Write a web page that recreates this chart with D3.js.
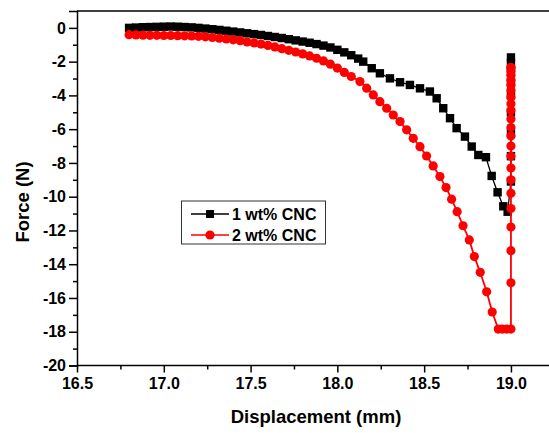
<html>
<head>
<meta charset="utf-8">
<script src="https://d3js.org/d3.v7.min.js"></script>
<style>
  body { margin: 0; background: #fff; }
  text { font-family: Arial, "Liberation Sans", sans-serif; font-weight: bold; }
</style>
</head>
<body>
<svg width="549" height="433"></svg>
<script>
// 1 wt% CNC (black squares)
var blackX = [16.80, 16.84, 16.88, 16.92, 16.96, 17.00, 17.04, 17.08, 17.12, 17.16,
  17.20, 17.24, 17.28, 17.32, 17.36, 17.40, 17.44, 17.48, 17.52, 17.56,
  17.60, 17.64, 17.68, 17.72, 17.76, 17.80, 17.84, 17.88, 17.92, 17.96,
  18.00, 18.04, 18.08, 18.12, 18.149, 18.198, 18.245, 18.303, 18.361, 18.418,
  18.476, 18.533, 18.572, 18.610, 18.649, 18.687, 18.735, 18.774, 18.812, 18.856,
  18.889, 18.923, 18.956, 18.981, 19.0, 19.0, 19.0, 19.0, 19.0, 19.0, 19.0, 19.0, 19.0];
var blackY = [0.00, 0.02, 0.04, 0.05, 0.06, 0.07, 0.08, 0.07, 0.05, 0.03,
  0.00, -0.04, -0.08, -0.12, -0.17, -0.22, -0.27, -0.32, -0.37, -0.42,
  -0.48, -0.54, -0.60, -0.67, -0.74, -0.81, -0.88, -0.96, -1.05, -1.16,
  -1.30, -1.45, -1.62, -1.82, -2.00, -2.39, -2.69, -2.99, -3.22, -3.38,
  -3.58, -3.77, -4.17, -4.76, -5.35, -5.94, -6.44, -7.03, -7.53, -7.66,
  -8.77, -9.74, -10.57, -10.89, -9.1, -7.6, -6.2, -5.0, -4.0, -3.2, -2.6, -2.1, -1.75];

// 2 wt% CNC (red circles)
var redX = [16.80, 16.84, 16.88, 16.92, 16.96, 17.00, 17.04, 17.08, 17.12, 17.16,
  17.20, 17.24, 17.28, 17.32, 17.36, 17.40, 17.44, 17.48, 17.52, 17.56,
  17.60, 17.64, 17.68, 17.72, 17.76, 17.80, 17.84, 17.88, 17.92, 17.96,
  18.00, 18.04, 18.08, 18.13, 18.169, 18.207, 18.245, 18.284, 18.322, 18.361,
  18.399, 18.437, 18.476, 18.514, 18.552, 18.591, 18.626, 18.658, 18.690, 18.724,
  18.760, 18.789, 18.823, 18.860, 18.892, 18.927, 18.95, 18.975, 19.0,
  19.0, 19.0, 19.0, 19.0, 19.0, 19.0, 19.0, 19.0, 19.0, 19.0, 19.0,
  19.0, 19.0, 19.0, 19.0, 19.0, 19.0, 19.0, 19.0, 19.0, 19.0, 19.0];
var redY = [-0.40, -0.42, -0.43, -0.44, -0.44, -0.45, -0.45, -0.46, -0.47, -0.48,
  -0.50, -0.53, -0.57, -0.61, -0.66, -0.71, -0.76, -0.83, -0.89, -0.96,
  -1.04, -1.13, -1.23, -1.33, -1.43, -1.54, -1.66, -1.80, -1.96, -2.15,
  -2.38, -2.64, -2.88, -3.18, -3.57, -3.97, -4.37, -4.76, -5.16, -5.55,
  -6.04, -6.54, -7.04, -7.59, -8.18, -8.81, -9.46, -10.15, -10.89, -11.72,
  -12.56, -13.55, -14.48, -15.63, -16.83, -17.84, -17.84, -17.84, -17.84,
  -15.1, -13.2, -11.8, -10.7, -9.8, -9.0, -8.3, -7.6, -7.0, -6.4, -5.9,
  -5.4, -4.9, -4.5, -4.1, -3.7, -3.4, -3.1, -2.8, -2.55, -2.35, -2.35];

var xTicks = [16.5, 17.0, 17.5, 18.0, 18.5, 19.0];
var yTicks = [0, -2, -4, -6, -8, -10, -12, -14, -16, -18, -20];
var seriesNames = ["1 wt% CNC", "2 wt% CNC"];

var svg = d3.select("svg");

var mLeft = 77, mRight = 550, mTop = 11, mBottom = 365.5;

var xs = d3.scaleLinear().domain([16.5, 19.225]).range([mLeft, mRight]);
var ys = d3.scaleLinear().domain([-20, 1]).range([mBottom, mTop]);

// frame
svg.append("line").attr("x1", mLeft).attr("x2", mRight).attr("y1", mTop).attr("y2", mTop)
  .attr("stroke", "#000").attr("stroke-width", 1.5);

var xAxis = svg.append("g")
  .attr("transform", "translate(0," + mBottom + ")")
  .call(d3.axisBottom(xs).tickValues(xTicks).tickSize(7).tickPadding(5)
    .tickFormat(function(d) { return d.toFixed(1); }));
var xMinor = svg.append("g")
  .attr("transform", "translate(0," + mBottom + ")")
  .call(d3.axisBottom(xs).tickValues([16.75, 17.25, 17.75, 18.25, 18.75]).tickSize(4).tickFormat(""));

var yAxis = svg.append("g")
  .attr("transform", "translate(" + mLeft + ",0)")
  .call(d3.axisLeft(ys).tickValues(yTicks).tickSize(8).tickPadding(3)
    .tickFormat(function(d) { return String(d); }));
var yMinor = svg.append("g")
  .attr("transform", "translate(" + mLeft + ",0)")
  .call(d3.axisLeft(ys).tickValues(d3.range(-19, 1, 2)).tickSize(4).tickFormat(""));

[xAxis, xMinor, yAxis, yMinor].forEach(function(a) {
  a.select(".domain").attr("stroke-width", 1.5);
  a.selectAll(".tick line").attr("stroke-width", 1.5);
  a.selectAll("text").attr("font-size", 16).attr("font-family", "Arial, 'Liberation Sans', sans-serif")
    .attr("font-weight", "bold").attr("fill", "#000");
});
xAxis.select(".domain").attr("d", "M" + mLeft + ",0H" + mRight);
xMinor.select(".domain").remove();
yMinor.select(".domain").remove();

// axis titles
svg.append("text").attr("x", 316).attr("y", 423).attr("text-anchor", "middle")
  .attr("font-size", 18.5).text("Displacement (mm)");
svg.append("text").attr("transform", "translate(29,202) rotate(-90)")
  .attr("text-anchor", "middle").attr("font-size", 18.5).text("Force (N)");

var line = d3.line().x(function(d) { return xs(d[0]); }).y(function(d) { return ys(d[1]); });

var blackData = blackX.map(function(x, i) { return [x, blackY[i]]; });
var redData = redX.map(function(x, i) { return [x, redY[i]]; });

// black series
svg.append("path").datum(blackData).attr("d", line)
  .attr("fill", "none").attr("stroke", "#000").attr("stroke-width", 1.3);
svg.append("g").selectAll("rect").data(blackData).enter().append("rect")
  .attr("x", function(d) { return xs(d[0]) - 4.2; })
  .attr("y", function(d) { return ys(d[1]) - 4.2; })
  .attr("width", 8.4).attr("height", 8.4).attr("fill", "#000");

// red series
svg.append("path").datum(redData).attr("d", line)
  .attr("fill", "none").attr("stroke", "#ff0000").attr("stroke-width", 1.8);
svg.append("g").selectAll("circle").data(redData).enter().append("circle")
  .attr("cx", function(d) { return xs(d[0]); })
  .attr("cy", function(d) { return ys(d[1]); })
  .attr("r", 4.6).attr("fill", "#ff0000");

// legend
var lg = svg.append("g");
lg.append("rect").attr("x", 181.5).attr("y", 201).attr("width", 144).attr("height", 43)
  .attr("fill", "#fff").attr("stroke", "#333").attr("stroke-width", 1);
var colors = ["#000", "#ff0000"];
seriesNames.forEach(function(name, i) {
  var yy = 214 + i * 21;
  lg.append("line").attr("x1", 191).attr("x2", 229).attr("y1", yy).attr("y2", yy)
    .attr("stroke", colors[i]).attr("stroke-width", 1.5);
  if (i == 0) {
    lg.append("rect").attr("x", 206).attr("y", yy - 4).attr("width", 8).attr("height", 8).attr("fill", colors[i]);
  } else {
    lg.append("circle").attr("cx", 210).attr("cy", yy).attr("r", 4.6).attr("fill", colors[i]);
  }
  lg.append("text").attr("x", 232).attr("y", yy + 6).attr("font-size", 16).text(name);
});
</script>
</body>
</html>
